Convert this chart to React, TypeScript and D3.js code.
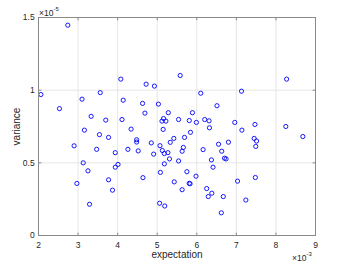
import React from 'react';
import * as d3 from 'd3';

// expectation (x10^-3) and variance (x10^-5)
const expectation = [
  2.74, 4.08, 4.72, 4.93, 5.58, 6.10, 7.13, 8.27, 2.06, 3.10,
  3.56, 4.14, 2.53, 3.33, 3.70, 4.11, 3.16, 3.54, 3.77, 4.34,
  2.90, 3.47, 3.94, 4.26, 3.13, 4.01, 3.94, 3.25, 3.77, 2.97,
  3.87, 3.29, 4.63, 5.03, 4.69, 5.28, 5.89, 6.51, 5.16, 5.12,
  5.22, 5.54, 5.81, 5.99, 6.20, 6.31, 6.32, 5.15, 5.84, 5.69,
  5.42, 5.33, 4.48, 4.48, 4.85, 5.07, 4.52, 4.91, 5.13, 5.18,
  5.27, 5.66, 5.63, 6.16, 6.55, 5.31, 5.54, 5.18, 6.37, 6.70,
  6.74, 6.41, 6.96, 7.14, 7.47, 8.25, 8.68, 7.45, 7.51, 7.49,
  6.80, 6.63, 4.64, 5.08, 5.75, 5.98, 5.43, 5.81, 5.83, 5.63,
  6.25, 6.38, 6.29, 6.67, 5.06, 5.19, 6.62, 7.03, 7.48, 7.24,
];
const variance = [
  1.447, 1.076, 1.041, 1.028, 1.101, 0.979, 0.993, 1.076, 0.970, 0.938,
  0.983, 0.931, 0.873, 0.820, 0.794, 0.798, 0.725, 0.694, 0.675, 0.732,
  0.617, 0.593, 0.570, 0.593, 0.500, 0.489, 0.470, 0.445, 0.383, 0.358,
  0.312, 0.215, 0.909, 0.904, 0.842, 0.845, 0.845, 0.893, 0.805, 0.787,
  0.787, 0.798, 0.791, 0.778, 0.798, 0.789, 0.741, 0.730, 0.710, 0.675,
  0.668, 0.641, 0.659, 0.643, 0.637, 0.618, 0.582, 0.560, 0.585, 0.564,
  0.570, 0.606, 0.580, 0.591, 0.628, 0.527, 0.513, 0.493, 0.520, 0.532,
  0.527, 0.470, 0.778, 0.725, 0.764, 0.750, 0.681, 0.668, 0.650, 0.613,
  0.642, 0.580, 0.398, 0.434, 0.439, 0.408, 0.369, 0.359, 0.356, 0.315,
  0.323, 0.291, 0.268, 0.268, 0.222, 0.203, 0.156, 0.374, 0.399, 0.244,
];

const xTicks = [2, 3, 4, 5, 6, 7, 8, 9];
const yTicks = [0, 0.5, 1, 1.5];

const W = 338;
const H = 274;
const margin = { top: 17.5, right: 22.5, bottom: 38.5, left: 38.5 };
const font = '"Liberation Sans", Arial, Helvetica, sans-serif';
const textColor = '#262626';
const axisColor = '#8a8a8a';

export default function App() {
  const x = d3.scaleLinear().domain([2, 9]).range([margin.left, W - margin.right]);
  const y = d3.scaleLinear().domain([0, 1.5]).range([H - margin.bottom, margin.top]);
  const [x0, x1] = x.range();
  const [y0, y1] = y.range();
  const points = d3.zip(expectation, variance);

  return (
    <svg
      width={W}
      height={H}
      style={{ position: 'absolute', left: 0, top: 0, background: '#fff' }}
      fontFamily={font}
    >
      {/* grid */}
      <g stroke="#e6e6e6" strokeWidth={1}>
        {xTicks.slice(1, -1).map(t => (
          <line key={'gx' + t} x1={x(t)} x2={x(t)} y1={y1} y2={y0} />
        ))}
        {yTicks.slice(1, -1).map(t => (
          <line key={'gy' + t} x1={x0} x2={x1} y1={y(t)} y2={y(t)} />
        ))}
      </g>

      {/* markers */}
      <g fill="none" stroke="#0000ff" strokeWidth={0.9}>
        {points.map(([e, v], i) => (
          <circle key={i} cx={x(e)} cy={y(v)} r={2.1} />
        ))}
      </g>

      {/* box + inward ticks */}
      <rect x={x0} y={y1} width={x1 - x0} height={y0 - y1} fill="none" stroke={axisColor} strokeWidth={1} />
      <g stroke={axisColor} strokeWidth={1}>
        {xTicks.map(t => (
          <g key={'tx' + t}>
            <line x1={x(t)} x2={x(t)} y1={y0} y2={y0 - 2.8} />
            <line x1={x(t)} x2={x(t)} y1={y1} y2={y1 + 2.8} />
          </g>
        ))}
        {yTicks.map(t => (
          <g key={'ty' + t}>
            <line x1={x0} x2={x0 + 2.8} y1={y(t)} y2={y(t)} />
            <line x1={x1} x2={x1 - 2.8} y1={y(t)} y2={y(t)} />
          </g>
        ))}
      </g>

      {/* tick labels */}
      <g fill={textColor} fontSize={8.5}>
        {xTicks.map(t => (
          <text key={'lx' + t} x={x(t)} y={y0 + 12.6} textAnchor="middle">{t}</text>
        ))}
        {yTicks.map(t => (
          <text key={'ly' + t} x={x0 - 3.8} y={y(t)} dy="0.34em" textAnchor="end">{t}</text>
        ))}
      </g>

      {/* exponent labels */}
      <text x={x0 + 0.5} y={15.5} fill={textColor} fontSize={8.5}>
        ×10<tspan fontSize={6} dy={-5}>-5</tspan>
      </text>
      <text x={x1 - 23.5} y={261} fill={textColor} fontSize={8.5}>
        ×10<tspan fontSize={6} dy={-5}>-3</tspan>
      </text>

      {/* axis titles */}
      <text x={(x0 + x1) / 2} y={258} textAnchor="middle" fill={textColor} fontSize={10}>
        expectation
      </text>
      <text
        transform={`translate(19.5,${(y0 + y1) / 2}) rotate(-90)`}
        textAnchor="middle"
        fill={textColor}
        fontSize={10}
      >
        variance
      </text>
    </svg>
  );
}
